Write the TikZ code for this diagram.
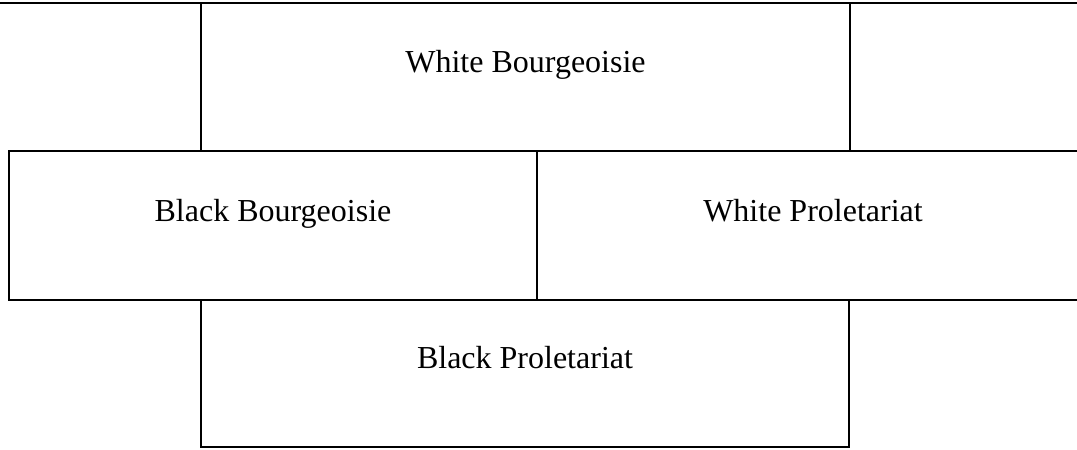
\documentclass[tikz,border=0pt]{standalone}
\usepackage{fontspec}
\setmainfont{Liberation Serif}
\usetikzlibrary{positioning}

\tikzset{
  cell/.style={draw, line width=0.8pt, rectangle, inner sep=0pt, outer sep=0pt},
  lbl/.style={inner sep=0pt, anchor=base, font=\fontsize{12}{14}\selectfont}
}

\begin{document}
\begin{tikzpicture}[x=0.375pt, y=-0.375pt]
\def\u{0.375pt}
\useasboundingbox (0,0) rectangle (1077,449);
\clip (0,0) rectangle (1077,449);

% top rule across the page
\coordinate (rule west) at (0,3);
\coordinate (rule east) at (1077,3);
\draw[line width=0.8pt] (rule west) -- (rule east);

% four class boxes
\node[cell, minimum width=649*\u, minimum height=148*\u] (wb) at (525.5,77) {};
\node[cell, minimum width=528*\u, minimum height=149*\u] (bb) at (273,225.5) {};
\node[cell, minimum width=560*\u, minimum height=149*\u] (wp) at (817,225.5) {};
\node[cell, minimum width=648*\u, minimum height=147*\u] (bp) at (525,373.5) {};

\node[lbl] (wbtext) at ([yshift=-69*\u]wb.north) {White Bourgeoisie};
\node[lbl] (bbtext) at ([yshift=-70*\u]bb.north) {Black Bourgeoisie};
\node[lbl] (wptext) at ([yshift=-70*\u]wp.north -| 813,0) {White Proletariat};
\node[lbl] (bptext) at ([yshift=-68*\u]bp.north) {Black Proletariat};
\end{tikzpicture}
\end{document}
